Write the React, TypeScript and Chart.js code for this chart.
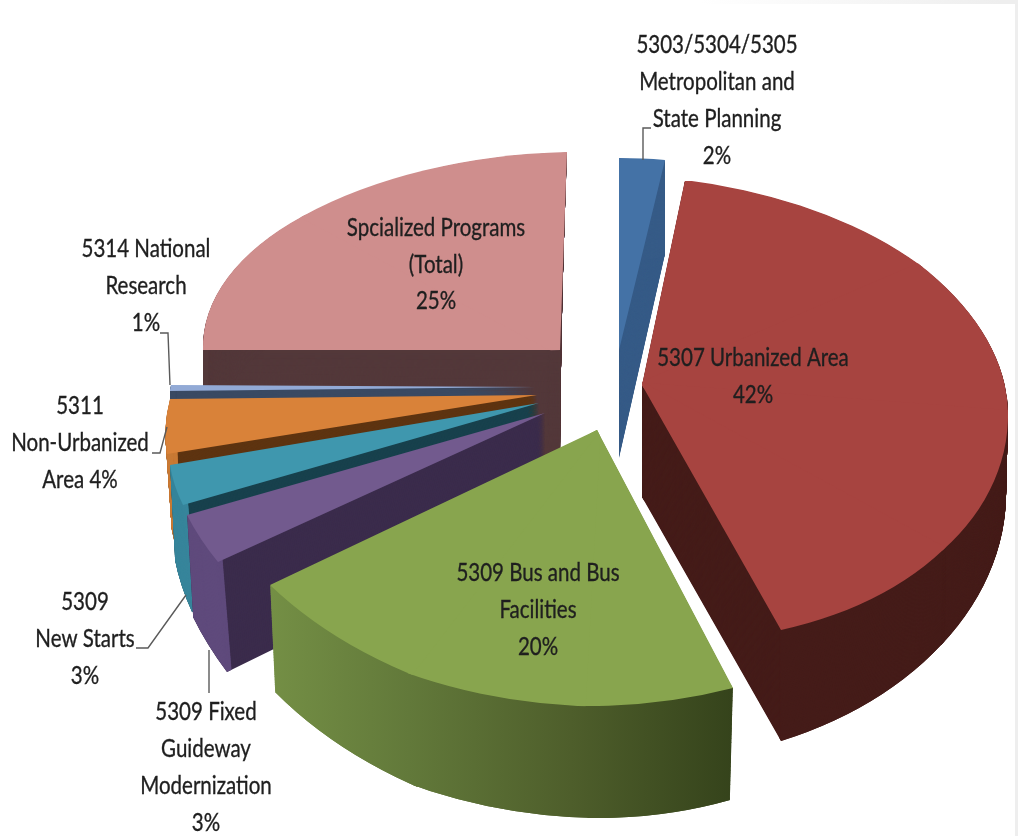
import React, { useEffect, useRef } from "react";
import { Chart, registerables } from "chart.js";

Chart.register(...registerables);

// ---- data ----
const categories = [
  "5303/5304/5305 Metropolitan and State Planning",
  "5307 Urbanized Area",
  "5309 Bus and Bus Facilities",
  "5309 Fixed Guideway Modernization",
  "5309 New Starts",
  "5311 Non-Urbanized Area",
  "5314 National Research",
  "Spcialized Programs (Total)",
];
const shares = [2, 42, 20, 3, 3, 4, 1, 25];

const labelLines = [
  ["5303/5304/5305", "Metropolitan and", "State Planning", "2%"],
  ["5307 Urbanized Area", "42%"],
  ["5309 Bus and Bus", "Facilities", "20%"],
  ["5309 Fixed", "Guideway", "Modernization", "3%"],
  ["5309", "New Starts", "3%"],
  ["5311", "Non-Urbanized", "Area 4%"],
  ["5314 National", "Research", "1%"],
  ["Spcialized Programs", "(Total)", "25%"],
];

// ---- styles ----
const topColors = ["#4472a6", "#a74440", "#88a54e", "#725a8e", "#3f97ae", "#d98239", "#92aad6", "#cf8e8d"];
const wallColors = ["#365b87", "#451c19", "#5a7036", "#3b2c4c", "#18414d", "#5e3411", "#3a4a63", "#53383a"];
const rimColors = ["#365b87", "#451c19", "#5a7036", "#5f4a7c", "#37859b", "#c97a35", "#3a4a63", "#53383a"];

// ---- view: the 3D projection of each exploded slice. Every ray is [pie degrees, x, y] ----
type Ray = [number, number, number];
type Face = { apex: [number, number]; rays: Ray[] };
const topViews: Face[] = [
  { apex: [619, 350], rays: [[0, 619, 158], [7.2, 665, 160]] },
  { apex: [642, 385], rays: [[7.2, 685, 180], [50, 920, 265], [90, 1008, 412], [125, 944, 549], [158.4, 781, 630]] },
  { apex: [597, 430], rays: [[158.4, 733, 688], [180, 583, 706], [205, 410, 674], [230.4, 270, 585]] },
  { apex: [545, 413], rays: [[230.4, 218, 562], [241.2, 187, 515]] },
  { apex: [539, 403], rays: [[241.2, 183, 505], [252, 170, 465]] },
  { apex: [537, 395], rays: [[252, 167, 454], [266.4, 170, 399]] },
  { apex: [535, 387], rays: [[266.4, 170, 391], [270, 171, 385]] },
  { apex: [560, 350], rays: [[270, 203, 350], [315, 303, 216], [360, 567, 152]] },
];
const bottomViews: Face[] = [
  { apex: [619, 458], rays: [[0, 619, 262], [7.2, 665, 254]] },
  { apex: [642, 497], rays: [[7.2, 685, 290], [50, 920, 345], [90, 1006, 490], [125, 943, 643], [158.4, 781, 741]] },
  { apex: [597, 530], rays: [[158.4, 730, 800], [180, 590, 818], [205, 415, 786], [230.4, 275, 692]] },
  { apex: [545, 516], rays: [[230.4, 227, 672], [241.2, 193, 617]] },
  { apex: [539, 505], rays: [[241.2, 192, 612], [252, 175, 560]] },
  { apex: [537, 490], rays: [[252, 174, 540], [266.4, 174, 500]] },
  { apex: [535, 480], rays: [[266.4, 172, 490], [270, 172, 480]] },
  { apex: [560, 460], rays: [[270, 203, 455], [315, 303, 320], [360, 562, 252]] },
];
const drawOrder = [7, 0, 6, 5, 4, 3, 2, 1];

const labelCentres: [number, number][] = [
  [717, 45], [753, 358], [538, 573], [206, 712], [85, 602], [80, 406], [146, 249], [436, 228],
];
const labelLineSteps = [37, 37, 37, 37, 37, 37, 37, 36.5];
const leaders: [number, number][][] = [
  [[643, 160], [643, 128], [651, 128]],
  [[170, 385], [168, 333], [160, 333]],
  [[167, 427], [160, 453], [152, 453]],
  [[186, 595], [148, 648], [136, 648]],
  [[209, 650], [209, 693]],
];

const textFont = '25px Lato, "Liberation Sans", sans-serif';
const textSqueeze = 0.82;
const W = 1018;
const H = 836;

function arcStyle(color: any) {
  return {
    backgroundColor: color, borderColor: color, borderWidth: 0, spacing: 0, offset: 0, borderRadius: 0,
    borderAlign: "center", circular: true, borderDash: [], borderDashOffset: 0, borderJoinStyle: "round", selfJoin: false,
  };
}

function lerp(a: number, b: number, t: number) { return a + (b - a) * t; }

function mixFace(b: Face, t: Face, k: number): Face {
  return {
    apex: [lerp(b.apex[0], t.apex[0], k), lerp(b.apex[1], t.apex[1], k)],
    rays: b.rays.map((r, i) => [r[0], lerp(r[1], t.rays[i][1], k), lerp(r[2], t.rays[i][2], k)] as Ray),
  };
}

// Draws the library's arc element through a piecewise affine map of the pie plane.
function drawProjected(ctx: CanvasRenderingContext2D, el: any, face: Face) {
  const R = el.outerRadius;
  const [ax, ay] = face.apex;
  for (let i = 0; i < face.rays.length - 1; i++) {
    const [d1, x1, y1] = face.rays[i];
    const [d2, x2, y2] = face.rays[i + 1];
    const t1 = (d1 * Math.PI) / 180;
    const t2 = (d2 * Math.PI) / 180;
    const u1 = R * Math.sin(t1), v1 = -R * Math.cos(t1);
    const u2 = R * Math.sin(t2), v2 = -R * Math.cos(t2);
    const det = u1 * v2 - u2 * v1;
    const p1x = x1 - ax, p1y = y1 - ay, p2x = x2 - ax, p2y = y2 - ay;
    const a = (p1x * v2 - p2x * v1) / det;
    const c = (u1 * p2x - u2 * p1x) / det;
    const b = (p1y * v2 - p2y * v1) / det;
    const d = (u1 * p2y - u2 * p1y) / det;
    ctx.save();
    if (face.rays.length > 2) {
      const mx = (p1x + p2x) / 2, my = (p1y + p2y) / 2;
      const ml = Math.hypot(mx, my) || 1;
      const s = 1.6;
      const nudge = (px: number, py: number) => {
        const l = Math.hypot(px - mx, py - my) || 1;
        return [ax + s * px + ((px - mx) / l) * 2, ay + s * py + ((py - my) / l) * 2];
      };
      const c1 = nudge(p1x, p1y);
      const c2 = nudge(p2x, p2y);
      ctx.beginPath();
      ctx.moveTo(ax - (mx / ml) * 12, ay - (my / ml) * 12);
      ctx.lineTo(c1[0], c1[1]);
      ctx.lineTo(c2[0], c2[1]);
      ctx.closePath();
      ctx.clip();
    }
    ctx.transform(a, b, c, d, ax - (a * el.x + c * el.y), ay - (b * el.x + d * el.y));
    el.draw(ctx);
    ctx.restore();
  }
}

const pie3d = {
  id: "pie3d",
  beforeDraw(chart: any) {
    const { ctx } = chart;
    ctx.save();
    ctx.fillStyle = "#ffffff";
    ctx.fillRect(0, 0, W, H);
    const g = ctx.createLinearGradient(700, 0, 1000, 0);
    g.addColorStop(0, "#ffffff");
    g.addColorStop(1, "#eeeeee");
    ctx.fillStyle = g;
    ctx.fillRect(700, 0, W - 700, 4);
    ctx.fillStyle = "#eeeeee";
    ctx.fillRect(W - 3, 0, 3, H);
    ctx.restore();
  },
  beforeDatasetsDraw(chart: any) {
    const { ctx } = chart;
    const arcs = chart.getDatasetMeta(0).data;
    const off = document.createElement("canvas");
    off.width = W;
    off.height = H;
    const oc = off.getContext("2d") as CanvasRenderingContext2D;

    for (const i of drawOrder) {
      const el = arcs[i];
      const saved = el.options;
      const savedInner = el.innerRadius;
      const top = topViews[i];
      const bottom = bottomViews[i];
      const steps = 120;

      oc.clearRect(0, 0, W, H);
      el.options = arcStyle(wallColors[i]);
      for (let s = 0; s < steps; s++) drawProjected(oc, el, mixFace(bottom, top, s / steps));
      el.innerRadius = el.outerRadius * 0.985;
      el.options = arcStyle(rimColors[i]);
      for (let s = 0; s < steps; s++) drawProjected(oc, el, mixFace(bottom, top, s / steps));
      el.innerRadius = savedInner;

      if (i === 2) {
        const g = oc.createLinearGradient(270, 0, 733, 0);
        g.addColorStop(0, "#748f45");
        g.addColorStop(0.3, "#62793a");
        g.addColorStop(0.65, "#4e5e2b");
        g.addColorStop(1, "#35431b");
        oc.save();
        oc.globalCompositeOperation = "source-atop";
        oc.fillStyle = g;
        oc.fillRect(0, 0, W, H);
        oc.restore();
      }
      ctx.drawImage(off, 0, 0);

      el.options = arcStyle(topColors[i]);
      drawProjected(ctx, el, top);
      el.options = saved;
    }
    return false;
  },
  afterDraw(chart: any) {
    const { ctx } = chart;
    ctx.save();
    ctx.strokeStyle = "#5a5a5a";
    ctx.lineWidth = 1.4;
    for (const path of leaders) {
      ctx.beginPath();
      path.forEach(([x, y], k) => (k ? ctx.lineTo(x, y) : ctx.moveTo(x, y)));
      ctx.stroke();
    }
    ctx.font = textFont;
    ctx.fillStyle = "#1f1f1f";
    ctx.strokeStyle = "#1f1f1f";
    ctx.lineWidth = 0.35;
    ctx.textAlign = "center";
    ctx.textBaseline = "middle";
    labelLines.forEach((lines, i) => {
      const [cx, cy] = labelCentres[i];
      lines.forEach((line, k) => {
        ctx.save();
        ctx.translate(cx, cy + k * labelLineSteps[i]);
        ctx.scale(textSqueeze, 1);
        ctx.fillText(line, 0, 0);
        ctx.strokeText(line, 0, 0);
        ctx.restore();
      });
    });
    ctx.restore();
  },
};

export default function App() {
  const ref = useRef<HTMLCanvasElement>(null);
  useEffect(() => {
    const chart = new Chart(ref.current as HTMLCanvasElement, {
      type: "pie",
      data: {
        labels: categories,
        datasets: [{ data: shares, backgroundColor: topColors, borderWidth: 0 }],
      },
      options: {
        animation: false,
        responsive: false,
        events: [],
        rotation: 0,
        plugins: { legend: { display: false }, tooltip: { enabled: false } },
      },
      plugins: [pie3d],
    } as any);
    return () => chart.destroy();
  }, []);
  return (
    <canvas
      ref={ref}
      width={W}
      height={H}
      style={{ position: "absolute", left: 0, top: 0, display: "block", width: W, height: H, filter: "blur(0.5px)" }}
    />
  );
}
